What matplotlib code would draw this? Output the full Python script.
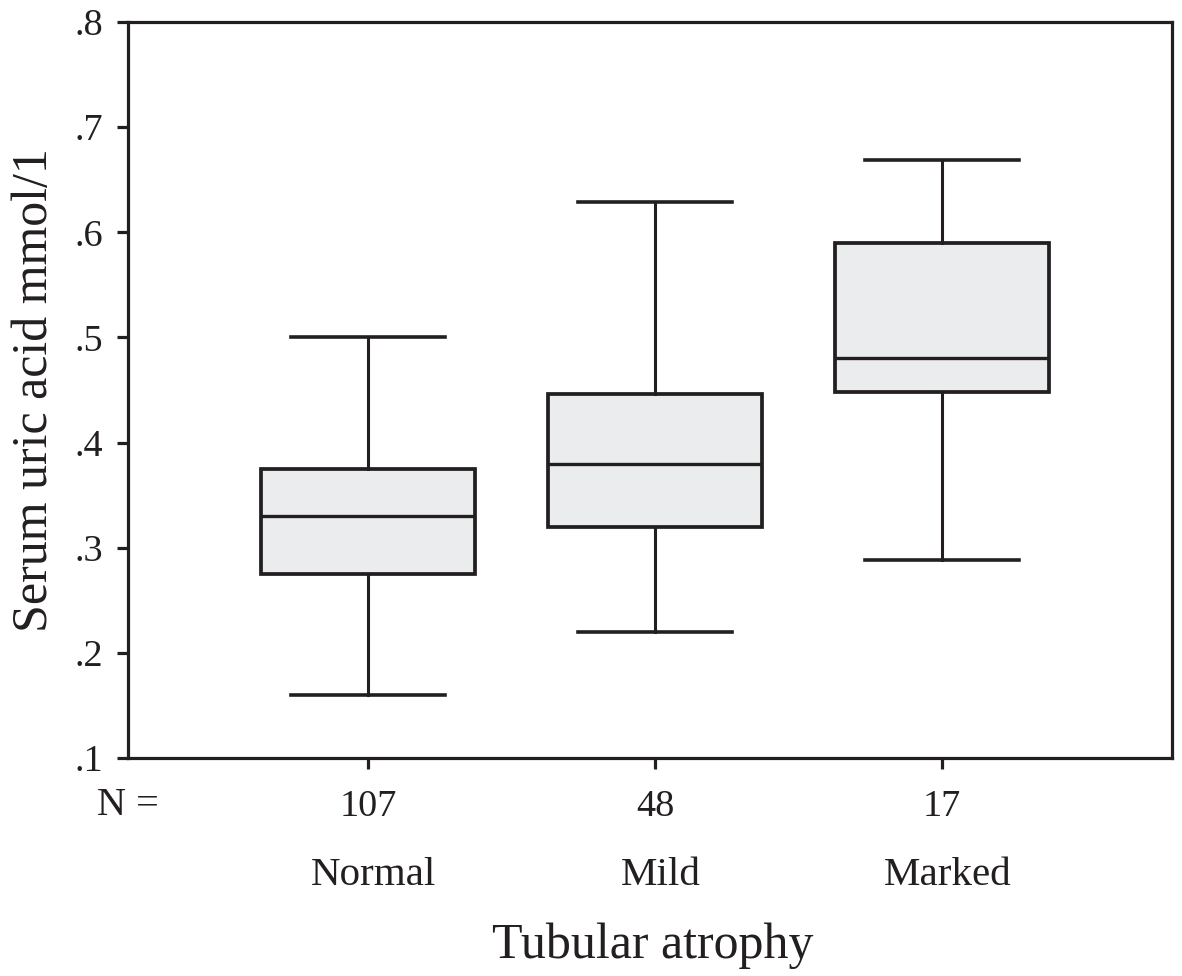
import matplotlib
matplotlib.use("Agg")
import matplotlib.pyplot as plt
import matplotlib.transforms as mtransforms

# box summary (serum uric acid, mmol/l)
groups = ["Normal", "Mild", "Marked"]
counts = [107, 48, 17]
whislo = [0.160, 0.220, 0.288]
q1 = [0.275, 0.320, 0.448]
med = [0.330, 0.380, 0.480]
q3 = [0.375, 0.446, 0.590]
whishi = [0.500, 0.629, 0.669]

ink = "#231f20"
fill = "#ebecee"

plt.rcParams['font.family'] = ['Liberation Serif', 'DejaVu Serif']

fig = plt.figure(figsize=(11.82, 9.76), dpi=100)
ax = fig.add_axes([128/1182, 1 - 758/976, (1172-128)/1182, (758-22)/976])

stats = []
for i in range(len(groups)):
    stats.append(dict(med=med[i], q1=q1[i], q3=q3[i],
                      whislo=whislo[i], whishi=whishi[i], fliers=[]))

pos = [1, 2, 3]
ax.bxp(stats, positions=pos, widths=0.745, capwidths=0.535,
       showfliers=False, patch_artist=True,
       boxprops=dict(facecolor=fill, edgecolor=ink, linewidth=2.7),
       medianprops=dict(color=ink, linewidth=2.4),
       whiskerprops=dict(color=ink, linewidth=2.2),
       capprops=dict(color=ink, linewidth=2.6))

ax.set_xlim(0.165, 3.8)
ax.set_ylim(0.1, 0.8)
ax.set_yticks([0.1, 0.2, 0.3, 0.4, 0.5, 0.6, 0.7, 0.8])
ax.set_yticklabels([".1", ".2", ".3", ".4", ".5", ".6", ".7", ".8"])
ax.set_xticks(pos)
ax.set_xticklabels([str(c) for c in counts])

for s in ax.spines.values():
    s.set_linewidth(2.3)
    s.set_color(ink)
ax.tick_params(axis='both', direction='out', length=8, width=2.3, color=ink,
               labelsize=27.5, labelcolor=ink)
ax.tick_params(axis='y', pad=10)
ax.tick_params(axis='x', pad=15)

trans = mtransforms.blended_transform_factory(ax.transData, ax.transAxes)
for p, g in zip(pos, groups):
    ax.text(p + 0.02, -0.16, g, transform=trans, ha='center', va='center',
            fontsize=29.5, color=ink)
ax.text(0.0, -0.065, "N =", transform=ax.transAxes, ha='center',
        va='center', fontsize=29, color=ink)

ax.set_ylabel("Serum uric acid mmol/1", fontsize=36, color=ink, labelpad=12)
fig.text(653/1182, 1 - 946/976, "Tubular atrophy", ha='center', va='center',
         fontsize=36, color=ink)

fig.savefig("out.png", dpi=100, facecolor="white")
